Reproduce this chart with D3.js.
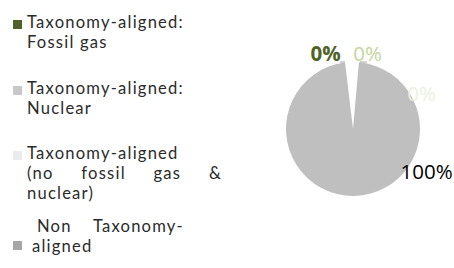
<!DOCTYPE html>
<html>
<head>
<meta charset="utf-8">
<script src="https://cdn.jsdelivr.net/npm/d3@7"></script>
<style>
  body { margin: 0; background: #fff; }
  svg { display: block; }
</style>
</head>
<body>
<svg id="chart" width="454" height="268"></svg>
<script>
// legend entries, each split in the lines shown in the picture
const legendLines = [
    ["Taxonomy-aligned:", "Fossil gas"],
    ["Taxonomy-aligned:", "Nuclear"],
    ["Taxonomy-aligned", "(no fossil gas &", "nuclear)"],
    [" Non Taxonomy-", "aligned"]
];
const justified = [
    [false, false],
    [false, false],
    [false, true, false],
    [true, false]
];
const shares = [0, 0, 3.3, 96.7];
const shareLabels = ["0%", "0%", "0%", "100%"];

const legendColors = ["#4f6228", "#c8c8c8", "#ebebeb", "#a6a6a6"];
const sliceColors = ["#4f6228", "#c8c8c8", "#ffffff", "#bfbfbf"];
const labelColors = ["#4f6228", "#c3d69b", "#ebf1de", "#000000"];
const labelWeights = ["bold", "normal", "normal", "normal"];

const svg = d3.select("#chart");
const font = "Lato, 'Open Sans', sans-serif";
const fontSize = 16.6;
const spacing = 1.2;

// legend
const legendTop = [28, 94, 159, 232];
const lineH = 20;
const textX = 27;
const rightEdge = [222, 222, 222, 184];

// measure a word once, off to the side
const probe = svg.append("text")
    .attr("font-family", font)
    .attr("font-size", fontSize)
    .attr("letter-spacing", spacing);
const measure = w => probe.text(w).node().getComputedTextLength();

const legend = svg.append("g").attr("class", "legend");
legendLines.forEach((lines, i) => {
    const g = legend.append("g");
    g.append("rect")
        .attr("x", 13)
        .attr("y", (i === 3 ? legendTop[i] + 9 : legendTop[i] - 8))
        .attr("width", 9)
        .attr("height", 9)
        .attr("fill", legendColors[i]);

    const text = g.append("text")
        .attr("font-family", font)
        .attr("font-size", fontSize)
        .attr("letter-spacing", spacing)
        .attr("fill", "#2b2b2b");

    lines.forEach((line, j) => {
        const y = legendTop[i] + j * lineH;
        if (!justified[i][j]) {
            text.append("tspan")
                .attr("x", textX + (i === 3 && j === 1 ? 5 : 0))
                .attr("y", y)
                .text(line);
        } else {
            const words = line.trim().split(/\s+/);
            const lead = line.startsWith(" ") ? 10 : 0;
            const widths = words.map(measure);
            const gap = (rightEdge[i] - textX - lead - d3.sum(widths)) / (words.length - 1);
            let x = textX + lead;
            words.forEach((w, k) => {
                text.append("tspan").attr("x", x).attr("y", y).text(w);
                x += widths[k] + gap;
            });
        }
    });
});
probe.remove();

// pie
const cx = 353, cy = 129, r = 67;
const offset = -6.8 * Math.PI / 180;

const pie = d3.pie()
    .sort(null)
    .startAngle(offset)
    .endAngle(offset + 2 * Math.PI);

const arc = d3.arc().innerRadius(0).outerRadius(r);

const pieG = svg.append("g").attr("transform", `translate(${cx},${cy})`);
const arcs = pie(shares);

pieG.selectAll("path")
    .data(arcs)
    .join("path")
    .attr("d", arc)
    .attr("fill", (d, i) => sliceColors[i]);

// data labels, placed where the chart tool put them
const labelAngles = [-20, 11, 63, 120];
const labelRadius = [80, 77, 77, 85];

pieG.selectAll("text.pct")
    .data(arcs)
    .join("text")
    .attr("class", "pct")
    .attr("x", (d, i) => labelRadius[i] * Math.sin(labelAngles[i] * Math.PI / 180))
    .attr("y", (d, i) => -labelRadius[i] * Math.cos(labelAngles[i] * Math.PI / 180))
    .attr("dy", "0.35em")
    .attr("text-anchor", "middle")
    .attr("font-family", "'Open Sans', sans-serif")
    .attr("font-size", 20.5)
    .attr("font-weight", (d, i) => labelWeights[i])
    .attr("fill", (d, i) => labelColors[i])
    .text((d, i) => shareLabels[i]);

// short leader lines under the two top labels
pieG.append("line")
    .attr("x1", -13).attr("x2", -8)
    .attr("y1", -67).attr("y2", -67)
    .attr("stroke", "#a6a6a6").attr("stroke-width", 1);
pieG.append("line")
    .attr("x1", 7).attr("x2", 14)
    .attr("y1", -67).attr("y2", -67)
    .attr("stroke", "#a6a6a6").attr("stroke-width", 1);
</script>
</body>
</html>
